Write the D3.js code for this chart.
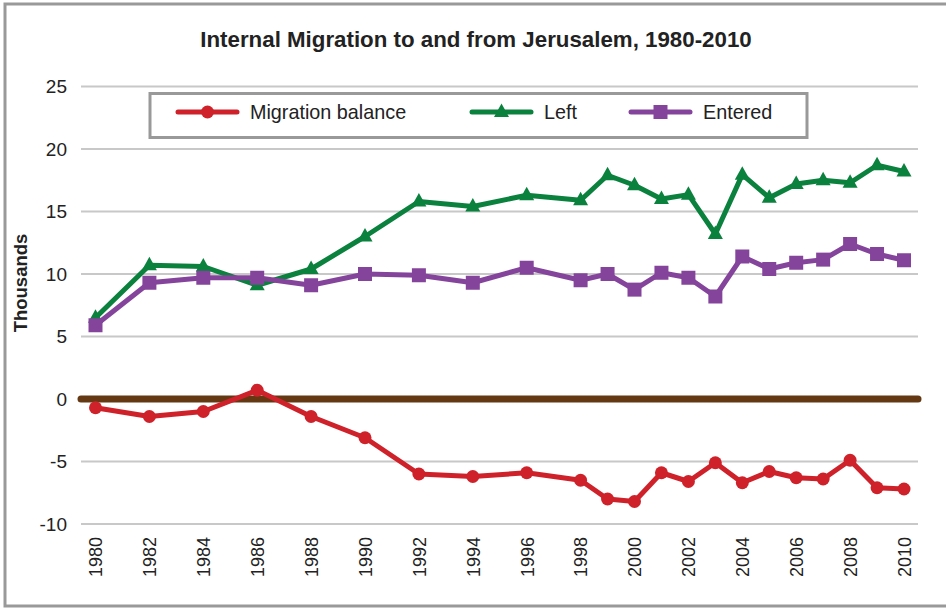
<!DOCTYPE html>
<meta charset="utf-8">
<script src="https://d3js.org/d3.v7.min.js"></script>
<style>
body {
    margin: 0;
    background: white;
}
text {
    font-family: "Liberation Sans", Arial, Helvetica, sans-serif;
    fill: #222;
}
.grid line {
    stroke: #c8c8c8;
    stroke-width: 2px;
}
</style>
<body>
<svg width="946" height="609" id="svg"></svg>
<script>
// years that have a data point (every 2nd year until 1998, then yearly)
var years = [1980, 1982, 1984, 1986, 1988, 1990, 1992, 1994, 1996, 1998,
             1999, 2000, 2001, 2002, 2003, 2004, 2005, 2006, 2007, 2008, 2009, 2010];

var balance = [-0.7, -1.4, -1.0, 0.7, -1.4, -3.1, -6.0, -6.2, -5.9, -6.5,
               -8.0, -8.2, -5.9, -6.6, -5.1, -6.7, -5.8, -6.3, -6.4, -4.9, -7.1, -7.2];
var left = [6.5, 10.7, 10.6, 9.1, 10.4, 13.0, 15.8, 15.4, 16.3, 15.9,
            17.9, 17.1, 16.0, 16.35, 13.2, 17.95, 16.1, 17.2, 17.5, 17.3, 18.7, 18.2];
var entered = [5.9, 9.3, 9.7, 9.7, 9.1, 10.0, 9.9, 9.3, 10.5, 9.5,
               10.0, 8.75, 10.1, 9.7, 8.2, 11.4, 10.4, 10.9, 11.15, 12.4, 11.6, 11.1];

var xTicks = d3.range(1980, 2011, 2);
var yTicks = [-10, -5, 0, 5, 10, 15, 20, 25];

var series = [
    {name: "Migration balance", values: balance, color: "#cf2129", marker: "circle"},
    {name: "Left", values: left, color: "#0b813e", marker: "triangle"},
    {name: "Entered", values: entered, color: "#85449b", marker: "square"}
];

let svg = d3.select("#svg");

// outer frame (right side runs off the picture)
svg.append("rect")
    .attr("x", 5).attr("y", 4)
    .attr("width", 960).attr("height", 602)
    .attr("fill", "none")
    .attr("stroke", "#999")
    .attr("stroke-width", 3);

let xScale = d3.scaleLinear()
    .domain([1980, 2010])
    .range([95.5, 904]);

let yScale = d3.scaleLinear()
    .domain([-10, 25])
    .range([524, 86.5]);

let gridX0 = 81, gridX1 = 918;

svg.append("g")
    .attr("class", "grid")
    .selectAll("line")
    .data(yTicks.filter(function(d) { return d != 0; }))
    .enter().append("line")
    .attr("x1", gridX0).attr("x2", gridX1)
    .attr("y1", function(d) { return yScale(d); })
    .attr("y2", function(d) { return yScale(d); });

// y axis labels (plain hyphen for negatives)
let yAxis = svg.append("g")
    .attr("transform", "translate(" + (gridX0 - 14) + ",0)")
    .call(d3.axisLeft(yScale).tickValues(yTicks).tickFormat(function(d) { return String(d); })
        .tickSize(0).tickPadding(0));
yAxis.select(".domain").remove();
yAxis.selectAll("text")
    .attr("font-size", 19)
    .attr("font-family", "Liberation Sans, Arial, sans-serif")
    .attr("fill", "#222");

// x axis labels, rotated
let xAxis = svg.append("g")
    .attr("transform", "translate(0,537)")
    .call(d3.axisBottom(xScale).tickValues(xTicks).tickFormat(d3.format("d")).tickSize(0).tickPadding(0));
xAxis.select(".domain").remove();
xAxis.selectAll("text")
    .attr("font-size", 18)
    .attr("font-family", "Liberation Sans, Arial, sans-serif")
    .attr("fill", "#222")
    .attr("text-anchor", "end")
    .attr("dy", "0.35em")
    .attr("transform", "rotate(-90)");

// zero line
svg.append("line")
    .attr("x1", gridX0).attr("x2", gridX1)
    .attr("y1", yScale(0)).attr("y2", yScale(0))
    .attr("stroke", "#653814")
    .attr("stroke-width", 7)
    .attr("stroke-linecap", "round");

let line = d3.line()
    .x(function(d, i) { return xScale(years[i]); })
    .y(function(d) { return yScale(d); });

function drawMarker(g, type, color) {
    if (type == "circle") {
        g.append("circle").attr("r", 6.5).attr("fill", color);
    } else if (type == "triangle") {
        g.append("path").attr("d", "M0,-8.5L7.5,5L-7.5,5Z").attr("fill", color);
    } else {
        g.append("rect").attr("x", -7).attr("y", -7).attr("width", 14).attr("height", 14).attr("fill", color);
    }
}

// draw lines so that entered sits on top of left, like the original
[1, 2, 0].forEach(function(k) {
    let s = series[k];
    svg.append("path")
        .attr("d", line(s.values))
        .attr("fill", "none")
        .attr("stroke", s.color)
        .attr("stroke-width", 5)
        .attr("stroke-linejoin", "round");
    svg.append("g")
        .selectAll("g")
        .data(s.values)
        .enter().append("g")
        .attr("transform", function(d, i) { return "translate(" + xScale(years[i]) + "," + yScale(d) + ")"; })
        .each(function() { drawMarker(d3.select(this), s.marker, s.color); });
});

// legend
let legend = svg.append("g");
legend.append("rect")
    .attr("x", 150).attr("y", 93.5)
    .attr("width", 657).attr("height", 44)
    .attr("fill", "white")
    .attr("stroke", "#999")
    .attr("stroke-width", 3);

let legendX = [178, 472, 631];
series.forEach(function(s, i) {
    let g = legend.append("g").attr("transform", "translate(" + legendX[i] + ",112)");
    g.append("line")
        .attr("x1", 0).attr("x2", 59)
        .attr("stroke", s.color)
        .attr("stroke-width", 5)
        .attr("stroke-linecap", "round");
    let m = g.append("g").attr("transform", "translate(29.5,0)");
    drawMarker(m, s.marker, s.color);
    g.append("text")
        .attr("x", 72).attr("y", 7)
        .attr("font-size", 19.8)
        .text(s.name);
});

// title
svg.append("text")
    .attr("x", 476).attr("y", 47)
    .attr("text-anchor", "middle")
    .attr("font-size", 22.3)
    .attr("font-weight", "bold")
    .text("Internal Migration to and from Jerusalem, 1980-2010");

svg.append("text")
    .attr("transform", "translate(27,283) rotate(-90)")
    .attr("text-anchor", "middle")
    .attr("font-size", 18.5)
    .attr("font-weight", "bold")
    .text("Thousands");
</script>
</body>
